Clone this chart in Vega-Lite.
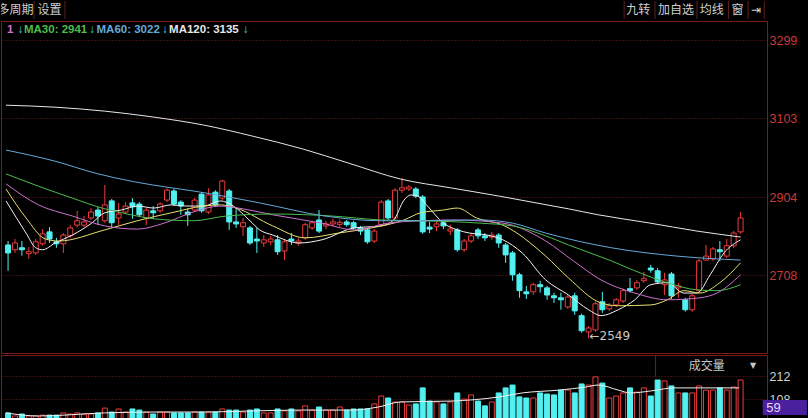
{
"$schema":"https://vega.github.io/schema/vega-lite/v6.json",
"background":"#000000",
"padding":0,
"spacing":0,
"config":{"view":{"stroke":"#7a1c1c","strokeWidth":1},"font":"Liberation Sans"},
"datasets":{
"k":[
{"i":0,"o":2784,"h":2794,"l":2719,"c":2764,"v":46,"d":"dn"},
{"i":1,"o":2772,"h":2799,"l":2764,"c":2789,"v":32,"d":"up"},
{"i":2,"o":2777,"h":2794,"l":2757,"c":2772,"v":41,"d":"dn"},
{"i":3,"o":2762,"h":2779,"l":2749,"c":2767,"v":32,"d":"up"},
{"i":4,"o":2764,"h":2799,"l":2759,"c":2792,"v":32,"d":"up"},
{"i":5,"o":2787,"h":2824,"l":2782,"c":2812,"v":36,"d":"up"},
{"i":6,"o":2817,"h":2829,"l":2789,"c":2799,"v":36,"d":"dn"},
{"i":7,"o":2792,"h":2802,"l":2777,"c":2787,"v":36,"d":"dn"},
{"i":8,"o":2787,"h":2814,"l":2764,"c":2809,"v":46,"d":"up"},
{"i":9,"o":2807,"h":2834,"l":2802,"c":2827,"v":41,"d":"up"},
{"i":10,"o":2834,"h":2870,"l":2829,"c":2845,"v":46,"d":"up"},
{"i":11,"o":2834,"h":2857,"l":2829,"c":2842,"v":41,"d":"up"},
{"i":12,"o":2852,"h":2877,"l":2847,"c":2867,"v":41,"d":"up"},
{"i":13,"o":2872,"h":2880,"l":2834,"c":2857,"v":46,"d":"dn"},
{"i":14,"o":2845,"h":2935,"l":2840,"c":2885,"v":68,"d":"up"},
{"i":15,"o":2895,"h":2900,"l":2827,"c":2840,"v":50,"d":"dn"},
{"i":16,"o":2852,"h":2890,"l":2834,"c":2862,"v":64,"d":"up"},
{"i":17,"o":2867,"h":2892,"l":2862,"c":2882,"v":50,"d":"up"},
{"i":18,"o":2890,"h":2902,"l":2850,"c":2880,"v":64,"d":"dn"},
{"i":19,"o":2887,"h":2892,"l":2855,"c":2860,"v":59,"d":"dn"},
{"i":20,"o":2852,"h":2877,"l":2834,"c":2872,"v":50,"d":"up"},
{"i":21,"o":2870,"h":2882,"l":2850,"c":2865,"v":41,"d":"dn"},
{"i":22,"o":2870,"h":2892,"l":2865,"c":2887,"v":50,"d":"up"},
{"i":23,"o":2897,"h":2927,"l":2892,"c":2922,"v":50,"d":"up"},
{"i":24,"o":2920,"h":2925,"l":2882,"c":2887,"v":46,"d":"dn"},
{"i":25,"o":2892,"h":2897,"l":2860,"c":2882,"v":46,"d":"dn"},
{"i":26,"o":2867,"h":2877,"l":2832,"c":2860,"v":46,"d":"dn"},
{"i":27,"o":2872,"h":2902,"l":2867,"c":2897,"v":50,"d":"up"},
{"i":28,"o":2912,"h":2917,"l":2865,"c":2870,"v":50,"d":"dn"},
{"i":29,"o":2867,"h":2927,"l":2862,"c":2910,"v":50,"d":"up"},
{"i":30,"o":2917,"h":2922,"l":2880,"c":2885,"v":50,"d":"dn"},
{"i":31,"o":2902,"h":2948,"l":2897,"c":2945,"v":64,"d":"up"},
{"i":32,"o":2920,"h":2925,"l":2822,"c":2842,"v":59,"d":"dn"},
{"i":33,"o":2842,"h":2877,"l":2827,"c":2837,"v":59,"d":"dn"},
{"i":34,"o":2830,"h":2852,"l":2807,"c":2840,"v":50,"d":"up"},
{"i":35,"o":2827,"h":2832,"l":2784,"c":2789,"v":59,"d":"dn"},
{"i":36,"o":2799,"h":2827,"l":2764,"c":2794,"v":64,"d":"dn"},
{"i":37,"o":2789,"h":2809,"l":2779,"c":2797,"v":46,"d":"up"},
{"i":38,"o":2792,"h":2807,"l":2784,"c":2799,"v":46,"d":"up"},
{"i":39,"o":2797,"h":2809,"l":2759,"c":2767,"v":64,"d":"dn"},
{"i":40,"o":2769,"h":2799,"l":2746,"c":2792,"v":55,"d":"up"},
{"i":41,"o":2799,"h":2814,"l":2784,"c":2794,"v":64,"d":"dn"},
{"i":42,"o":2789,"h":2802,"l":2782,"c":2794,"v":55,"d":"up"},
{"i":43,"o":2802,"h":2840,"l":2797,"c":2835,"v":78,"d":"up"},
{"i":44,"o":2827,"h":2845,"l":2822,"c":2840,"v":59,"d":"up"},
{"i":45,"o":2847,"h":2872,"l":2814,"c":2819,"v":73,"d":"dn"},
{"i":46,"o":2832,"h":2845,"l":2824,"c":2837,"v":59,"d":"up"},
{"i":47,"o":2837,"h":2850,"l":2830,"c":2842,"v":59,"d":"up"},
{"i":48,"o":2836,"h":2848,"l":2829,"c":2841,"v":73,"d":"up"},
{"i":49,"o":2842,"h":2847,"l":2830,"c":2835,"v":59,"d":"dn"},
{"i":50,"o":2840,"h":2845,"l":2822,"c":2827,"v":64,"d":"dn"},
{"i":51,"o":2827,"h":2832,"l":2809,"c":2819,"v":64,"d":"dn"},
{"i":52,"o":2822,"h":2827,"l":2787,"c":2792,"v":64,"d":"dn"},
{"i":53,"o":2794,"h":2824,"l":2789,"c":2819,"v":87,"d":"up"},
{"i":54,"o":2835,"h":2897,"l":2830,"c":2892,"v":123,"d":"up"},
{"i":55,"o":2895,"h":2900,"l":2847,"c":2852,"v":114,"d":"dn"},
{"i":56,"o":2852,"h":2927,"l":2845,"c":2922,"v":96,"d":"up"},
{"i":57,"o":2922,"h":2953,"l":2915,"c":2928,"v":96,"d":"up"},
{"i":58,"o":2925,"h":2935,"l":2920,"c":2930,"v":82,"d":"up"},
{"i":59,"o":2925,"h":2930,"l":2902,"c":2907,"v":87,"d":"dn"},
{"i":60,"o":2905,"h":2910,"l":2812,"c":2817,"v":160,"d":"dn"},
{"i":61,"o":2829,"h":2842,"l":2814,"c":2824,"v":100,"d":"dn"},
{"i":62,"o":2830,"h":2845,"l":2819,"c":2837,"v":96,"d":"up"},
{"i":63,"o":2840,"h":2845,"l":2824,"c":2832,"v":87,"d":"dn"},
{"i":64,"o":2819,"h":2835,"l":2809,"c":2824,"v":96,"d":"up"},
{"i":65,"o":2822,"h":2827,"l":2767,"c":2772,"v":137,"d":"dn"},
{"i":66,"o":2772,"h":2799,"l":2767,"c":2794,"v":109,"d":"up"},
{"i":67,"o":2794,"h":2814,"l":2789,"c":2807,"v":128,"d":"up"},
{"i":68,"o":2822,"h":2827,"l":2799,"c":2807,"v":100,"d":"dn"},
{"i":69,"o":2807,"h":2814,"l":2794,"c":2802,"v":78,"d":"dn"},
{"i":70,"o":2804,"h":2817,"l":2797,"c":2809,"v":96,"d":"up"},
{"i":71,"o":2809,"h":2814,"l":2777,"c":2789,"v":137,"d":"dn"},
{"i":72,"o":2784,"h":2789,"l":2739,"c":2759,"v":160,"d":"dn"},
{"i":73,"o":2764,"h":2769,"l":2694,"c":2709,"v":173,"d":"dn"},
{"i":74,"o":2709,"h":2714,"l":2651,"c":2669,"v":119,"d":"dn"},
{"i":75,"o":2666,"h":2681,"l":2648,"c":2661,"v":114,"d":"dn"},
{"i":76,"o":2666,"h":2689,"l":2658,"c":2684,"v":114,"d":"up"},
{"i":77,"o":2684,"h":2694,"l":2664,"c":2679,"v":137,"d":"dn"},
{"i":78,"o":2676,"h":2681,"l":2646,"c":2658,"v":132,"d":"dn"},
{"i":79,"o":2656,"h":2664,"l":2638,"c":2651,"v":128,"d":"dn"},
{"i":80,"o":2651,"h":2664,"l":2621,"c":2646,"v":150,"d":"dn"},
{"i":81,"o":2628,"h":2658,"l":2623,"c":2653,"v":150,"d":"up"},
{"i":82,"o":2656,"h":2664,"l":2608,"c":2618,"v":137,"d":"dn"},
{"i":83,"o":2606,"h":2611,"l":2563,"c":2568,"v":178,"d":"dn"},
{"i":84,"o":2565,"h":2580,"l":2549,"c":2575,"v":173,"d":"up"},
{"i":85,"o":2570,"h":2641,"l":2565,"c":2636,"v":210,"d":"up"},
{"i":86,"o":2641,"h":2666,"l":2613,"c":2621,"v":182,"d":"dn"},
{"i":87,"o":2623,"h":2638,"l":2618,"c":2631,"v":114,"d":"up"},
{"i":88,"o":2633,"h":2651,"l":2628,"c":2646,"v":123,"d":"up"},
{"i":89,"o":2643,"h":2674,"l":2638,"c":2669,"v":137,"d":"up"},
{"i":90,"o":2674,"h":2701,"l":2664,"c":2669,"v":160,"d":"dn"},
{"i":91,"o":2676,"h":2696,"l":2671,"c":2689,"v":141,"d":"up"},
{"i":92,"o":2694,"h":2716,"l":2689,"c":2699,"v":160,"d":"up"},
{"i":93,"o":2726,"h":2734,"l":2714,"c":2721,"v":123,"d":"dn"},
{"i":94,"o":2719,"h":2726,"l":2686,"c":2691,"v":196,"d":"dn"},
{"i":95,"o":2684,"h":2714,"l":2658,"c":2696,"v":192,"d":"up"},
{"i":96,"o":2711,"h":2716,"l":2648,"c":2656,"v":169,"d":"dn"},
{"i":97,"o":2676,"h":2689,"l":2651,"c":2681,"v":137,"d":"up"},
{"i":98,"o":2646,"h":2651,"l":2616,"c":2621,"v":137,"d":"dn"},
{"i":99,"o":2621,"h":2661,"l":2616,"c":2656,"v":137,"d":"up"},
{"i":100,"o":2669,"h":2749,"l":2664,"c":2744,"v":169,"d":"up"},
{"i":101,"o":2746,"h":2784,"l":2744,"c":2756,"v":150,"d":"up"},
{"i":102,"o":2749,"h":2779,"l":2744,"c":2774,"v":150,"d":"up"},
{"i":103,"o":2772,"h":2794,"l":2744,"c":2767,"v":160,"d":"dn"},
{"i":104,"o":2756,"h":2799,"l":2751,"c":2782,"v":150,"d":"up"},
{"i":105,"o":2782,"h":2819,"l":2776,"c":2814,"v":164,"d":"up"},
{"i":106,"o":2817,"h":2867,"l":2812,"c":2852,"v":196,"d":"up"}
],
"ma":[
{"m":"MA5","i":-0.3,"p":2895},{"m":"MA5","i":2.6,"p":2814},{"m":"MA5","i":4,"p":2777},{"m":"MA5","i":5,"p":2772},{"m":"MA5","i":6.8,"p":2789},{"m":"MA5","i":9.3,"p":2809},{"m":"MA5","i":12.1,"p":2839},{"m":"MA5","i":14,"p":2865},{"m":"MA5","i":16.4,"p":2872},{"m":"MA5","i":18.7,"p":2882},{"m":"MA5","i":21.1,"p":2877},{"m":"MA5","i":23.6,"p":2885},{"m":"MA5","i":25.8,"p":2882},{"m":"MA5","i":28.3,"p":2882},{"m":"MA5","i":30.7,"p":2895},{"m":"MA5","i":32.6,"p":2882},{"m":"MA5","i":35,"p":2845},{"m":"MA5","i":36.4,"p":2822},{"m":"MA5","i":38.3,"p":2809},{"m":"MA5","i":42.1,"p":2789},{"m":"MA5","i":45.4,"p":2797},{"m":"MA5","i":50.1,"p":2827},{"m":"MA5","i":54,"p":2832},{"m":"MA5","i":55.8,"p":2847},{"m":"MA5","i":57.3,"p":2897},{"m":"MA5","i":58.3,"p":2910},{"m":"MA5","i":59.3,"p":2907},{"m":"MA5","i":60.7,"p":2882},{"m":"MA5","i":63,"p":2839},{"m":"MA5","i":65,"p":2822},{"m":"MA5","i":66.8,"p":2814},{"m":"MA5","i":69.3,"p":2809},{"m":"MA5","i":71.6,"p":2797},{"m":"MA5","i":74.4,"p":2764},{"m":"MA5","i":77.8,"p":2696},{"m":"MA5","i":81.1,"p":2658},{"m":"MA5","i":84,"p":2621},{"m":"MA5","i":85.8,"p":2606},{"m":"MA5","i":88.3,"p":2621},{"m":"MA5","i":90.7,"p":2646},{"m":"MA5","i":93,"p":2684},{"m":"MA5","i":95.4,"p":2689},{"m":"MA5","i":97.8,"p":2663},{"m":"MA5","i":99.7,"p":2663},{"m":"MA5","i":101.6,"p":2709},{"m":"MA5","i":103.6,"p":2764},{"m":"MA5","i":106,"p":2797},
{"m":"MA10","i":-0.3,"p":2925},{"m":"MA10","i":2.6,"p":2852},{"m":"MA10","i":5.4,"p":2799},{"m":"MA10","i":7.3,"p":2794},{"m":"MA10","i":14,"p":2822},{"m":"MA10","i":18.7,"p":2845},{"m":"MA10","i":23.6,"p":2865},{"m":"MA10","i":28.3,"p":2882},{"m":"MA10","i":30.7,"p":2885},{"m":"MA10","i":33,"p":2877},{"m":"MA10","i":38.3,"p":2832},{"m":"MA10","i":43,"p":2802},{"m":"MA10","i":47.8,"p":2814},{"m":"MA10","i":52.6,"p":2827},{"m":"MA10","i":57.3,"p":2847},{"m":"MA10","i":59.7,"p":2865},{"m":"MA10","i":63,"p":2872},{"m":"MA10","i":65,"p":2877},{"m":"MA10","i":67.8,"p":2852},{"m":"MA10","i":71.6,"p":2834},{"m":"MA10","i":77.8,"p":2756},{"m":"MA10","i":81.1,"p":2701},{"m":"MA10","i":85.8,"p":2638},{"m":"MA10","i":88.3,"p":2631},{"m":"MA10","i":93,"p":2633},{"m":"MA10","i":95.4,"p":2646},{"m":"MA10","i":97.8,"p":2669},{"m":"MA10","i":100.1,"p":2663},{"m":"MA10","i":103,"p":2689},{"m":"MA10","i":106,"p":2739},
{"m":"MA20","i":-0.3,"p":2938},{"m":"MA20","i":4.4,"p":2885},{"m":"MA20","i":9.3,"p":2857},{"m":"MA20","i":14,"p":2832},{"m":"MA20","i":18.7,"p":2824},{"m":"MA20","i":22.6,"p":2839},{"m":"MA20","i":26.8,"p":2867},{"m":"MA20","i":30.7,"p":2882},{"m":"MA20","i":34,"p":2875},{"m":"MA20","i":38.3,"p":2860},{"m":"MA20","i":45.4,"p":2839},{"m":"MA20","i":50.1,"p":2822},{"m":"MA20","i":55,"p":2839},{"m":"MA20","i":59.7,"p":2845},{"m":"MA20","i":64.4,"p":2847},{"m":"MA20","i":71.6,"p":2839},{"m":"MA20","i":77.8,"p":2794},{"m":"MA20","i":81.8,"p":2744},{"m":"MA20","i":85.8,"p":2696},{"m":"MA20","i":90.7,"p":2663},{"m":"MA20","i":95.4,"p":2646},{"m":"MA20","i":100.1,"p":2651},{"m":"MA20","i":102.6,"p":2663},{"m":"MA20","i":106,"p":2709},
{"m":"MA30","i":-0.3,"p":2963},{"m":"MA30","i":4.4,"p":2932},{"m":"MA30","i":9.3,"p":2902},{"m":"MA30","i":13.6,"p":2877},{"m":"MA30","i":17.8,"p":2860},{"m":"MA30","i":21.1,"p":2850},{"m":"MA30","i":26.8,"p":2845},{"m":"MA30","i":31.6,"p":2857},{"m":"MA30","i":38.3,"p":2862},{"m":"MA30","i":46.8,"p":2857},{"m":"MA30","i":54,"p":2847},{"m":"MA30","i":59.7,"p":2845},{"m":"MA30","i":68.3,"p":2839},{"m":"MA30","i":73,"p":2832},{"m":"MA30","i":77.8,"p":2807},{"m":"MA30","i":81.1,"p":2784},{"m":"MA30","i":87.3,"p":2744},{"m":"MA30","i":90.7,"p":2719},{"m":"MA30","i":95.4,"p":2689},{"m":"MA30","i":99.7,"p":2671},{"m":"MA30","i":102.6,"p":2669},{"m":"MA30","i":106,"p":2684},
{"m":"MA60","i":-0.3,"p":3023},{"m":"MA60","i":6.8,"p":2995},{"m":"MA60","i":12.6,"p":2965},{"m":"MA60","i":18.3,"p":2943},{"m":"MA60","i":23.6,"p":2928},{"m":"MA60","i":26.8,"p":2920},{"m":"MA60","i":36.4,"p":2890},{"m":"MA60","i":45.8,"p":2857},{"m":"MA60","i":54,"p":2845},{"m":"MA60","i":59.7,"p":2845},{"m":"MA60","i":68.3,"p":2847},{"m":"MA60","i":73,"p":2839},{"m":"MA60","i":77.8,"p":2814},{"m":"MA60","i":87.3,"p":2777},{"m":"MA60","i":96.8,"p":2756},{"m":"MA60","i":106,"p":2746},
{"m":"MA120","i":-0.3,"p":3136},{"m":"MA120","i":6.8,"p":3131},{"m":"MA120","i":14,"p":3121},{"m":"MA120","i":21.1,"p":3106},{"m":"MA120","i":28.3,"p":3086},{"m":"MA120","i":35.4,"p":3058},{"m":"MA120","i":42.6,"p":3026},{"m":"MA120","i":49.3,"p":2990},{"m":"MA120","i":56.8,"p":2950},{"m":"MA120","i":64,"p":2928},{"m":"MA120","i":71.1,"p":2907},{"m":"MA120","i":76.4,"p":2890},{"m":"MA120","i":81.1,"p":2875},{"m":"MA120","i":85.4,"p":2860},{"m":"MA120","i":92.6,"p":2840},{"m":"MA120","i":99.7,"p":2819},{"m":"MA120","i":106,"p":2804}
],
"mal":[
{"label":"1","m":"MA20","i":-0.16},{"label":"↓","m":"arrow","i":1.4},{"label":"MA30: 2941","m":"MA30","i":2.3},{"label":"↓","m":"arrow","i":11.8},{"label":"MA60: 3022","m":"MA60","i":12.8},{"label":"↓","m":"arrow","i":22.3},{"label":"MA120: 3135","m":"MA120","i":23.3},{"label":"↓","m":"arrow","i":34}
],
"vma":[
{"i":-0.3,"v":46},{"i":4.4,"v":32},{"i":14,"v":46},{"i":21.1,"v":50},{"i":28.3,"v":50},{"i":35.4,"v":55},{"i":42.6,"v":59},{"i":49.7,"v":59},{"i":53.6,"v":73},{"i":56.8,"v":96},{"i":64,"v":100},{"i":71.1,"v":119},{"i":74.4,"v":137},{"i":79.7,"v":150},{"i":83.6,"v":164},{"i":85.4,"v":173},{"i":88.3,"v":150},{"i":90.1,"v":137},{"i":93,"v":146},{"i":96.4,"v":160},{"i":99.7,"v":160},{"i":105.8,"v":160}
],
"header":[
{"label":"多周期","i":1.77},{"label":"设置","i":6.63},{"label":"九转","i":90.7},{"label":"加自选","i":96.1},{"label":"均线","i":101.2},{"label":"窗","i":104.9},{"label":"⇥","i":107.6}
],
"seps":[{"i":4.41},{"i":8.84},{"i":88.7},{"i":93.1},{"i":99.1},{"i":103.6},{"i":106.4},{"i":108.7}]
},
"vconcat":[
{
"width":766,"height":18,
"view":{"stroke":null},
"layer":[
{"data":{"name":"seps"},"mark":{"type":"rule","color":"#5a2020","strokeWidth":1},
 "encoding":{"x":{"field":"i","type":"quantitative","scale":{"domain":[-0.3,109.1],"nice":false,"zero":false},"axis":null}}},
{"data":{"name":"header"},"mark":{"type":"text","font":"Noto Sans CJK SC","fontSize":12,"color":"#cfcfcf","clip":true,"baseline":"middle"},
 "encoding":{"x":{"field":"i","type":"quantitative","scale":{"domain":[-0.3,109.1],"nice":false,"zero":false},"axis":null},"text":{"field":"label"}}}
]
},
{
"width":766,"height":332,
"resolve":{"axis":{"y":"independent"}},
"layer":[
{"data":{"name":"k"},"mark":{"type":"rule","strokeWidth":1},
 "encoding":{
  "x":{"field":"i","type":"quantitative","scale":{"domain":[-0.3,109.1],"nice":false,"zero":false},"axis":null},
  "y":{"field":"l","type":"quantitative","scale":{"domain":[2512,3348],"nice":false,"zero":false},
       "axis":{"orient":"right","values":[2708,2904,3103,3299],"format":"d","title":null,"ticks":false,"domain":false,"grid":true,"gridColor":"#7a2222","gridDash":[1,2],"gridOpacity":0.9,"labelColor":"#c83a3a","labelFontSize":12.5,"labelPadding":2,"labelFont":"Liberation Sans"}},
  "y2":{"field":"h"},
  "stroke":{"field":"d","type":"nominal","scale":{"domain":["up","dn"],"range":["#ee3b3b","#52f0f0"]},"legend":null}}},
{"data":{"name":"k"},"mark":{"type":"bar","size":5,"strokeWidth":1},
 "encoding":{
  "x":{"field":"i","type":"quantitative","scale":{"domain":[-0.3,109.1],"nice":false,"zero":false},"axis":null},
  "y":{"field":"o","type":"quantitative","scale":{"domain":[2512,3348],"nice":false,"zero":false},"axis":null},
  "y2":{"field":"c"},
  "fill":{"field":"d","type":"nominal","scale":{"domain":["up","dn"],"range":["#000000","#52f0f0"]},"legend":null},
  "stroke":{"field":"d","type":"nominal","scale":{"domain":["up","dn"],"range":["#ee3b3b","#52f0f0"]},"legend":null}}},
{"data":{"name":"ma"},"mark":{"type":"line","strokeWidth":1,"interpolate":"monotone"},
 "encoding":{
  "x":{"field":"i","type":"quantitative","scale":{"domain":[-0.3,109.1],"nice":false,"zero":false},"axis":null},
  "y":{"field":"p","type":"quantitative","scale":{"domain":[2512,3348],"nice":false,"zero":false},"axis":null},
  "color":{"field":"m","type":"nominal","scale":{"domain":["MA5","MA10","MA20","MA30","MA60","MA120","arrow"],"range":["#f2f2f2","#e8e070","#d070d0","#4cbc4c","#64a8d8","#e6e6e6","#40e0e0"]},"legend":null}}},
{"data":{"name":"mal"},"mark":{"type":"text","align":"left","baseline":"middle","fontSize":11.5,"font":"Liberation Sans","fontWeight":"bold"},
 "encoding":{
  "x":{"field":"i","type":"quantitative","scale":{"domain":[-0.3,109.1],"nice":false,"zero":false},"axis":null},
  "y":{"datum":3325,"type":"quantitative","scale":{"domain":[2512,3348],"nice":false,"zero":false},"axis":null},
  "text":{"field":"label"},
  "color":{"field":"m","type":"nominal","scale":{"domain":["MA5","MA10","MA20","MA30","MA60","MA120","arrow"],"range":["#f2f2f2","#e8e070","#d070d0","#4cbc4c","#64a8d8","#e6e6e6","#40e0e0"]},"legend":null}}},
{"data":{"values":[{"i":84,"p":2549,"label":"←2549"}]},"mark":{"type":"text","align":"left","baseline":"middle","fontSize":12,"dx":1,"dy":-2,"color":"#c8c8c8","font":"DejaVu Sans"},
 "encoding":{
  "x":{"field":"i","type":"quantitative","scale":{"domain":[-0.3,109.1],"nice":false,"zero":false},"axis":null},
  "y":{"field":"p","type":"quantitative","scale":{"domain":[2512,3348],"nice":false,"zero":false},"axis":null},
  "text":{"field":"label"}}}
]
},
{
"width":766,"height":68,
"resolve":{"axis":{"y":"independent"}},
"layer":[
{"data":{"name":"k"},"mark":{"type":"bar","size":5,"strokeWidth":1},
 "encoding":{
  "x":{"field":"i","type":"quantitative","scale":{"domain":[-0.3,109.1],"nice":false,"zero":false},"axis":null},
  "y":{"field":"v","type":"quantitative","scale":{"domain":[0,310],"nice":false},
       "axis":{"orient":"right","values":[108,212],"format":"d","title":null,"ticks":false,"domain":false,"grid":true,"gridColor":"#7a2222","gridDash":[1,2],"gridOpacity":0.9,"labelColor":"#d0d0d0","labelFontSize":12.5,"labelPadding":2,"labelFont":"Liberation Sans"}},
  "fill":{"field":"d","type":"nominal","scale":{"domain":["up","dn"],"range":["#000000","#52f0f0"]},"legend":null},
  "stroke":{"field":"d","type":"nominal","scale":{"domain":["up","dn"],"range":["#ee3b3b","#52f0f0"]},"legend":null}}},
{"data":{"name":"vma"},"mark":{"type":"line","strokeWidth":1,"color":"#f0f0f0","interpolate":"monotone"},
 "encoding":{
  "x":{"field":"i","type":"quantitative","scale":{"domain":[-0.3,109.1],"nice":false,"zero":false},"axis":null},
  "y":{"field":"v","type":"quantitative","scale":{"domain":[0,310],"nice":false},"axis":null}}},
{"data":{"values":[{}]},"mark":{"type":"rule","color":"#7a1c1c","strokeWidth":1},
 "encoding":{
  "x":{"datum":93.7,"type":"quantitative","scale":{"domain":[-0.3,109.1],"nice":false,"zero":false},"axis":null},
  "y":{"datum":210,"type":"quantitative","scale":{"domain":[0,310],"nice":false},"axis":null},
  "y2":{"datum":310}}},
{"data":{"values":[{"label":"成交量"}]},"mark":{"type":"text","font":"Noto Sans CJK SC","fontSize":12,"color":"#c8c8c8","baseline":"middle"},
 "encoding":{
  "x":{"datum":101.1,"type":"quantitative","scale":{"domain":[-0.3,109.1],"nice":false,"zero":false},"axis":null},
  "y":{"datum":258,"type":"quantitative","scale":{"domain":[0,310],"nice":false},"axis":null},
  "text":{"field":"label"}}},
{"data":{"values":[{"label":"▼"}]},"mark":{"type":"text","font":"DejaVu Sans","fontSize":8,"color":"#c8c8c8","baseline":"middle"},
 "encoding":{
  "x":{"datum":107.8,"type":"quantitative","scale":{"domain":[-0.3,109.1],"nice":false,"zero":false},"axis":null},
  "y":{"datum":262,"type":"quantitative","scale":{"domain":[0,310],"nice":false},"axis":null},
  "text":{"field":"label"}}},
{"data":{"values":[{}]},"mark":{"type":"rect","fill":"#4b209e"},
 "encoding":{
  "x":{"datum":109.2,"type":"quantitative","scale":{"domain":[-0.3,109.1],"nice":false,"zero":false},"axis":null},
  "x2":{"datum":115.6},
  "y":{"datum":36,"type":"quantitative","scale":{"domain":[0,310],"nice":false},"axis":null},
  "y2":{"datum":105}}},
{"data":{"values":[{"label":"59"}]},"mark":{"type":"text","align":"left","baseline":"middle","fontSize":13,"color":"#e4d8ff","font":"Liberation Sans"},
 "encoding":{
  "x":{"datum":109.7,"type":"quantitative","scale":{"domain":[-0.3,109.1],"nice":false,"zero":false},"axis":null},
  "y":{"datum":70,"type":"quantitative","scale":{"domain":[0,310],"nice":false},"axis":null},
  "text":{"field":"label"}}}
]
}
]
}
